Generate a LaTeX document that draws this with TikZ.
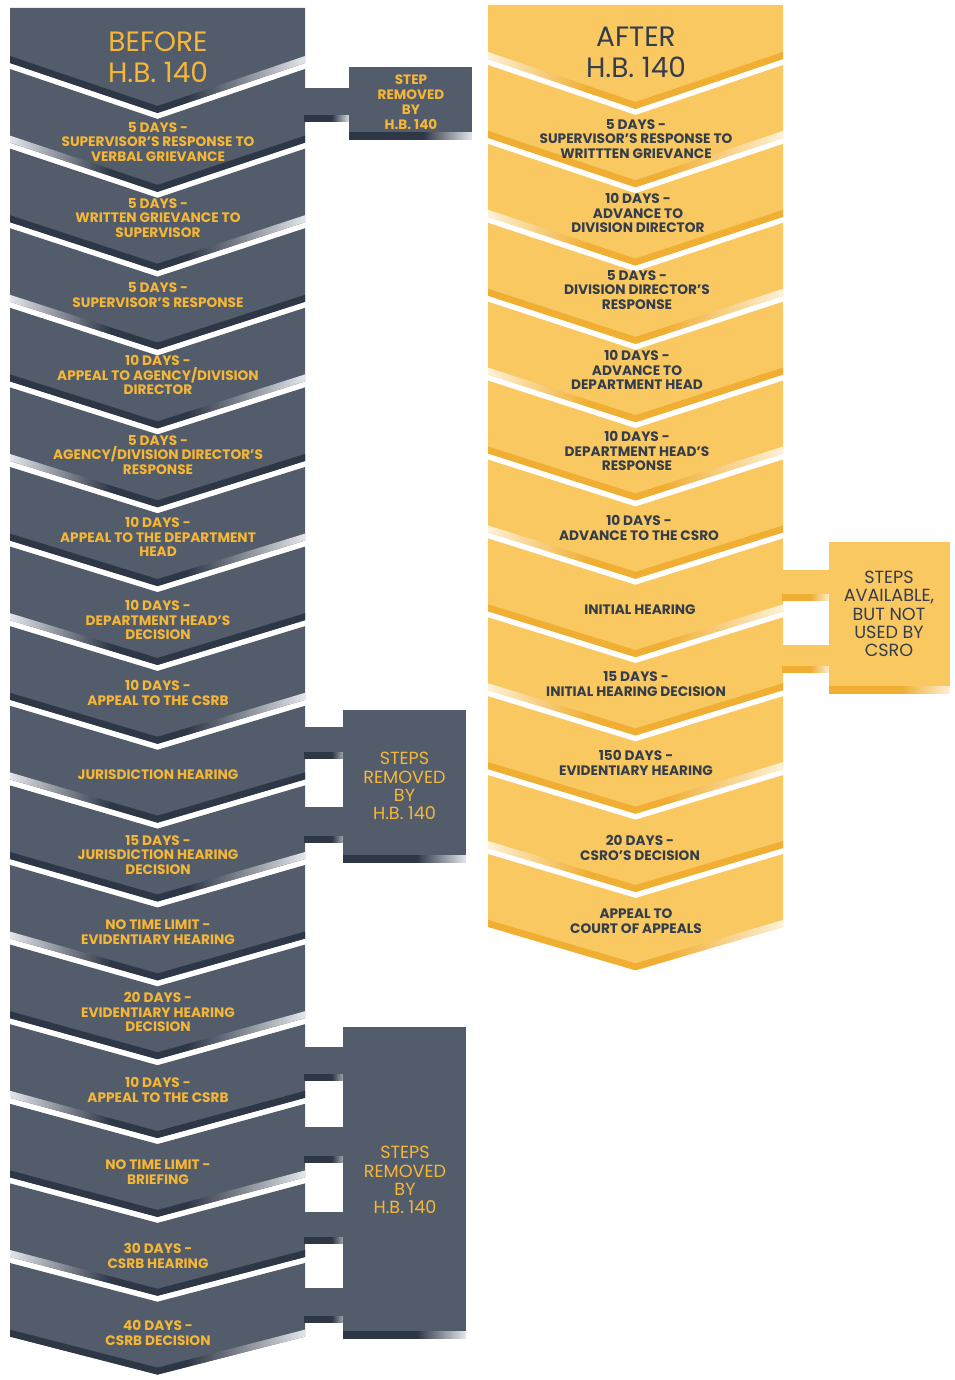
\documentclass[tikz,border=0pt]{standalone}
\usepackage{fontspec}
\setmainfont{Poppins}
\definecolor{slate}{HTML}{525C6B}
\definecolor{slated}{HTML}{2E3746}
\definecolor{slatel}{HTML}{E4E6EA}
\definecolor{gold}{HTML}{F9C861}
\definecolor{goldd}{HTML}{F0AE33}
\definecolor{goldl}{HTML}{FDF1D6}
\definecolor{ytext}{HTML}{F6B736}
\definecolor{dtext}{HTML}{343D4C}
\pgfdeclarehorizontalshading{dkR}{100bp}{color(0bp)=(slated); color(25bp)=(slated); color(55bp)=(slated); color(75bp)=(slatel); color(100bp)=(slatel)}
\pgfdeclarehorizontalshading{dkL}{100bp}{color(0bp)=(slatel); color(25bp)=(slatel); color(42bp)=(slated); color(75bp)=(slated); color(100bp)=(slated)}
\pgfdeclarehorizontalshading{gdR}{100bp}{color(0bp)=(goldd); color(25bp)=(goldd); color(55bp)=(goldd); color(75bp)=(goldl); color(100bp)=(goldl)}
\pgfdeclarehorizontalshading{gdL}{100bp}{color(0bp)=(goldl); color(25bp)=(goldl); color(42bp)=(goldd); color(75bp)=(goldd); color(100bp)=(goldd)}
\tikzset{
  lefttxt/.style={align=center, inner sep=0pt, text=ytext, font=\bfseries\fontsize{13.7}{14.8}\selectfont},
  righttxt/.style={align=center, inner sep=0pt, text=dtext, font=\bfseries\fontsize{13.7}{14.8}\selectfont},
  headtxt/.style={align=center, inner sep=0pt, font=\fontsize{28}{31}\selectfont},
  boxtxt/.style={align=center, inner sep=0pt, font=\fontsize{17.6}{18.3}\selectfont},
  smallboxtxt/.style={align=center, inner sep=0pt, text=ytext, font=\bfseries\fontsize{13.6}{15}\selectfont},
}
\begin{document}
\begin{tikzpicture}[x=1pt,y=-1pt]
\useasboundingbox (0,0) rectangle (954,1380);
% ---------- left column ----------
\foreach \k in {0,...,16}{
  \pgfmathsetmacro\tp{\k==0 ? 8 : 66+(\k-1)*79.6+3}
  \pgfmathsetmacro\dt{\k==0 ? 0 : 50-0.75*(\k-1)}
  \pgfmathsetmacro\bt{66+\k*79.6-3}
  \pgfmathsetmacro\db{50-0.75*\k}
  \pgfmathtruncatemacro\odd{mod(\k,2)}
  \fill[slate] (10,\tp) -- (157.5,\tp+\dt) -- (305,\tp) -- (305,\bt) -- (157.5,\bt+\db) -- (10,\bt) -- cycle;
  \ifnum\odd=1
    \shade[shading=dkL] (10,\bt-7) -- (157.5,\bt+\db-7) -- (305,\bt-7) -- (305,\bt) -- (157.5,\bt+\db) -- (10,\bt) -- cycle;
  \else
    \shade[shading=dkR] (10,\bt-7) -- (157.5,\bt+\db-7) -- (305,\bt-7) -- (305,\bt) -- (157.5,\bt+\db) -- (10,\bt) -- cycle;
  \fi
}
% ---------- right column ----------
\foreach \k in {0,...,11}{
  \pgfmathsetmacro\tp{\k==0 ? 5 : 62+(\k-1)*78.9+3}
  \pgfmathsetmacro\dt{\k==0 ? 0 : 50-0.6*(\k-1)}
  \pgfmathsetmacro\bt{62+\k*78.9-3}
  \pgfmathsetmacro\db{50-0.6*\k}
  \pgfmathtruncatemacro\odd{mod(\k,2)}
  \fill[gold] (488,\tp) -- (635.5,\tp+\dt) -- (783,\tp) -- (783,\bt) -- (635.5,\bt+\db) -- (488,\bt) -- cycle;
  \ifnum\odd=0
    \shade[shading=gdL] (488,\bt-7) -- (635.5,\bt+\db-7) -- (783,\bt-7) -- (783,\bt) -- (635.5,\bt+\db) -- (488,\bt) -- cycle;
  \else
    \shade[shading=gdR] (488,\bt-7) -- (635.5,\bt+\db-7) -- (783,\bt-7) -- (783,\bt) -- (635.5,\bt+\db) -- (488,\bt) -- cycle;
  \fi
}
% ---------- connectors and side boxes ----------
\foreach \a/\b in {88/122, 727/758, 807/842, 1047/1080, 1127/1162, 1212/1243, 1288/1322}{
  \fill[slate] (304,\a) rectangle (350,\b);
  \shade[shading=dkR] (304,\b-6) rectangle (350,\b);
}
\foreach \a/\b in {570/600, 645/672}{
  \fill[gold] (782,\a) rectangle (830,\b);
  \shade[shading=gdR] (782,\b-6) rectangle (830,\b);
}
\fill[slate] (349,67) rectangle (472,140);
\shade[shading=dkR] (349,133) rectangle (472,140);
\fill[slate] (343,710) rectangle (466,862);
\shade[shading=dkR] (343,855) rectangle (466,862);
\fill[slate] (343,1027) rectangle (466,1338);
\shade[shading=dkR] (343,1331) rectangle (466,1338);
\fill[gold] (829,542) rectangle (950,693);
\shade[shading=gdR] (829,686) rectangle (950,693);
% ---------- headers ----------
\node[headtxt, text=ytext] (before) at (158,57) {BEFORE\\H.B. 140};
\node[headtxt, text=dtext] (after) at (636,52) {AFTER\\H.B. 140};
% ---------- side box texts ----------
\node[smallboxtxt] (boxA) at (411,102) {STEP\\REMOVED\\BY\\H.B. 140};
\node[boxtxt, text=ytext] (boxB) at (404.5,786) {STEPS\\REMOVED\\BY\\H.B. 140};
\node[boxtxt, text=ytext] (boxC) at (405,1180) {STEPS\\REMOVED\\BY\\H.B. 140};
\node[boxtxt, text=dtext] (boxD) at (889,614) {STEPS\\AVAILABLE,\\BUT NOT\\USED BY\\CSRO};
% ---------- left steps ----------
\node[lefttxt] (l1) at (158,142) {5 DAYS -\\SUPERVISOR'S RESPONSE TO\\VERBAL GRIEVANCE};
\node[lefttxt] (l2) at (158,218) {5 DAYS -\\WRITTEN GRIEVANCE TO\\SUPERVISOR};
\node[lefttxt] (l3) at (158,295) {5 DAYS -\\SUPERVISOR'S RESPONSE};
\node[lefttxt] (l4) at (158,375) {10 DAYS -\\APPEAL TO AGENCY/DIVISION\\DIRECTOR};
\node[lefttxt] (l5) at (158,455) {5 DAYS -\\AGENCY/DIVISION DIRECTOR'S\\RESPONSE};
\node[lefttxt] (l6) at (158,537) {10 DAYS -\\APPEAL TO THE DEPARTMENT\\HEAD};
\node[lefttxt] (l7) at (158,620) {10 DAYS -\\DEPARTMENT HEAD'S\\DECISION};
\node[lefttxt] (l8) at (158,693) {10 DAYS -\\APPEAL TO THE CSRB};
\node[lefttxt] (l9) at (158,775) {JURISDICTION HEARING};
\node[lefttxt] (l10) at (158,855) {15 DAYS -\\JURISDICTION HEARING\\DECISION};
\node[lefttxt] (l11) at (158,932) {NO TIME LIMIT -\\EVIDENTIARY HEARING};
\node[lefttxt] (l12) at (158,1012) {20 DAYS -\\EVIDENTIARY HEARING\\DECISION};
\node[lefttxt] (l13) at (158,1090) {10 DAYS -\\APPEAL TO THE CSRB};
\node[lefttxt] (l14) at (158,1172) {NO TIME LIMIT -\\BRIEFING};
\node[lefttxt] (l15) at (158,1256) {30 DAYS -\\CSRB HEARING};
\node[lefttxt] (l16) at (158,1333) {40 DAYS -\\CSRB DECISION};
% ---------- right steps ----------
\node[righttxt] (r1) at (636,139) {5 DAYS -\\SUPERVISOR'S RESPONSE TO\\WRITTTEN GRIEVANCE};
\node[righttxt] (r2) at (638,213) {10 DAYS -\\ADVANCE TO\\DIVISION DIRECTOR};
\node[righttxt] (r3) at (637,290) {5 DAYS -\\DIVISION DIRECTOR'S\\RESPONSE};
\node[righttxt] (r4) at (637,370) {10 DAYS -\\ADVANCE TO\\DEPARTMENT HEAD};
\node[righttxt] (r5) at (637,451) {10 DAYS -\\DEPARTMENT HEAD'S\\RESPONSE};
\node[righttxt] (r6) at (639,528) {10 DAYS -\\ADVANCE TO THE CSRO};
\node[righttxt] (r7) at (640,610) {INITIAL HEARING};
\node[righttxt] (r8) at (636,684) {15 DAYS -\\INITIAL HEARING DECISION};
\node[righttxt] (r9) at (636,763) {150 DAYS -\\EVIDENTIARY HEARING};
\node[righttxt] (r10) at (640,848) {20 DAYS -\\CSRO'S DECISION};
\node[righttxt] (r11) at (636,921) {APPEAL TO\\COURT OF APPEALS};
\end{tikzpicture}
\end{document}
